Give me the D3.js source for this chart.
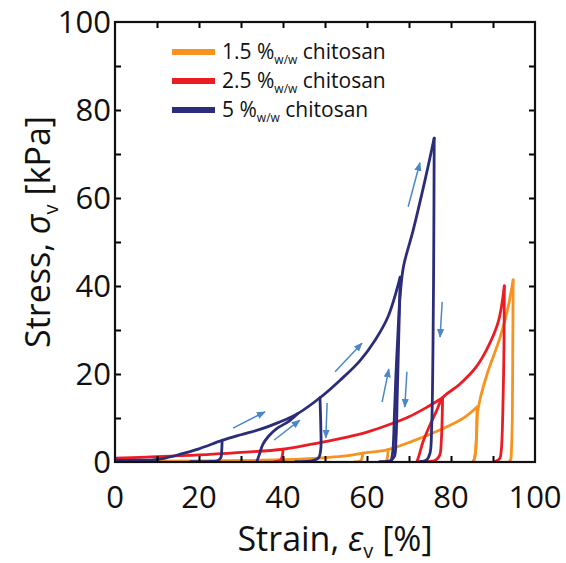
<!DOCTYPE html>
<html><head><meta charset="utf-8">
<script src="https://cdn.jsdelivr.net/npm/d3@7/dist/d3.min.js"></script>
<style>
html,body{margin:0;padding:0;background:#fff;}
svg{display:block;font-family:"Open Sans","Noto Sans",sans-serif;}
</style></head>
<body>
<svg id="chart" width="566" height="563"></svg>
<script>
// ---------- DATA (strain %, stress kPa) ----------
const xTicks = [0, 20, 40, 60, 80, 100];
const yTicks = [0, 20, 40, 60, 80, 100];
const minorTicks = [10, 20, 30, 40, 50, 60, 70, 80, 90];

const seriesNames = ["1.5 %", "2.5 %", "5 %"];
const seriesColors = ["#f7931e", "#ec1c24", "#2b2d7a"];

// 1.5 % w/w chitosan
const orangeEnvelope = [[0,0.2],[20,0.25],[35,0.4],[45,0.7],[50,1.0],[55,1.4],[59,2.0],[65,2.8],[71,4.8],[75,6.3],[79,8.0],[83,10.0],[86.2,12.5]];
const orangeHook59 = [[59,2.0],[58.8,0.8],[58.4,0.2],[57,0.05]];
const orangeHook65 = [[65,2.8],[64.9,1.2],[64.6,0.3],[63.5,0.05]];
const orangeUnload1 = [[86.2,12.5],[86.1,7],[85.9,3],[85.6,0.8],[85.2,0.1]];
const orangeReload = [[85.4,0.1],[85.8,2],[86.1,6],[86.3,11],[86.9,14.2],[88.6,20],[91.7,28.4],[93.6,35.2],[94.8,41.4]];
const orangeUnload2 = [[94.8,41.4],[94.7,25],[94.6,10],[94.4,3],[94.2,0.5],[93.8,0]];

// 2.5 % w/w chitosan
const redEnvelope = [[0,0.9],[10,1.2],[20,1.6],[30,2.2],[40,2.9],[48.8,4.4],[55,5.6],[60,6.8],[65,8.4],[70,10.3],[74,12.3],[78,14.6]];
const redHook40 = [[40,2.9],[39.8,1.2],[39.4,0.4],[38,0.1]];
const redUnload1 = [[78,14.6],[77.9,10],[77.7,5],[77.3,1.5],[76.3,0.4],[74.5,0.1]];
const redReload = [[71.9,0.1],[72.4,1.5],[73.3,4.5],[74.8,8],[76.5,11.5],[78,14.6],[82,17.6],[86,21.6],[89,26.5],[91.3,32],[92.7,40]];
const redUnload2 = [[92.7,40],[92.6,25],[92.3,10],[92,3],[91.6,0.8],[90.5,0.1]];

// 5 % w/w chitosan
const navyEnvelope = [[0,0.4],[5,0.4],[9,0.5],[12,0.9],[16,1.9],[20,3.0],[25.5,4.9],[30,6.2],[34.5,7.4],[39,9.0],[43.5,11.0],[48.8,14.6],[53.6,18.6],[58.3,23.0],[62,27.8],[65,33],[67.9,42]];
const navyUnload1 = [[25.5,4.9],[25.4,2.5],[25.2,1.0],[24.4,0.3],[22,0.1],[18,0.1]];
const navyReload2 = [[33.8,0.2],[34.3,1.5],[35.2,4.0],[36.5,5.8],[38.5,7.6],[41,9.0],[43.5,11.0]];
const navyUnload2 = [[48.8,14.6],[49,8],[49,3],[48.5,1],[47,0.3],[43,0.1]];
const navyUnload3 = [[67.9,42],[67.6,30],[67.2,15],[66.9,5],[66.5,1.2],[65.5,0.3],[63,0.1]];
const navyReload4 = [[65.8,0.2],[66.2,3],[66.5,10],[66.9,20],[67.4,30],[67.9,38],[68.7,44.5],[71,52.7],[73.8,64],[76,73.6]];
const navyUnload4 = [[76,73.6],[75.9,50],[75.7,25],[75.4,8],[75,2],[74.2,0.5],[72.5,0.1]];

const seriesSegments = [
  [orangeEnvelope, orangeHook59, orangeHook65, orangeUnload1, orangeReload, orangeUnload2],
  [redEnvelope, redHook40, redUnload1, redReload, redUnload2],
  [navyEnvelope, navyUnload1, navyReload2, navyUnload2, navyUnload3, navyReload4, navyUnload4]
];

// loading / unloading direction arrows [from, to]
const arrows = [
  [[28.1,7.7],[35.7,11.4]],
  [[37.9,5.0],[44.0,9.5]],
  [[50.5,13.4],[50.2,5.5]],
  [[52.4,20.5],[58.8,27.0]],
  [[63.6,13.6],[65.2,21.1]],
  [[69.5,20.5],[69.0,12.5]],
  [[69.8,58.0],[72.6,68.0]],
  [[77.9,36.4],[77.4,28.4]]
];

// ---------- LAYOUT ----------
const svg = d3.select("#chart");
const x = d3.scaleLinear().domain([0,100]).range([115,535]);
const y = d3.scaleLinear().domain([0,100]).range([462,22]);
const arrowColor = "#4a86c8";

const defs = svg.append("defs");
defs.append("marker").attr("id","ah").attr("viewBox","0 0 10 10")
  .attr("refX",9).attr("refY",5).attr("markerWidth",9).attr("markerHeight",9)
  .attr("markerUnits","userSpaceOnUse").attr("orient","auto")
  .append("path").attr("d","M0,1 L10,5 L0,9 Z").attr("fill",arrowColor);

const clip = defs.append("clipPath").attr("id","plotclip");
clip.append("rect").attr("x",x(0)).attr("y",y(100)).attr("width",x(100)-x(0)).attr("height",y(0)-y(100));

// curves
const line = d3.line().x(d=>x(d[0])).y(d=>y(d[1])).curve(d3.curveCatmullRom.alpha(0.5));
const curves = svg.append("g").attr("clip-path","url(#plotclip)");
seriesSegments.forEach((segs,i)=>{
  curves.append("g").selectAll("path").data(segs).join("path")
    .attr("d",line).attr("fill","none")
    .attr("stroke",seriesColors[i]).attr("stroke-width",2.8)
    .attr("stroke-linejoin","round").attr("stroke-linecap","round");
});

// arrows
svg.append("g").selectAll("line").data(arrows).join("line")
  .attr("x1",d=>x(d[0][0])).attr("y1",d=>y(d[0][1]))
  .attr("x2",d=>x(d[1][0])).attr("y2",d=>y(d[1][1]))
  .attr("stroke",arrowColor).attr("stroke-width",1.5)
  .attr("marker-end","url(#ah)");

// frame + axes (ticks inside on all sides)
const tickLen = 6;
const axB = d3.axisBottom(x).tickValues(minorTicks).tickSize(-tickLen).tickFormat("");
const axT = d3.axisTop(x).tickValues(minorTicks).tickSize(-tickLen).tickFormat("");
const axL = d3.axisLeft(y).tickValues(minorTicks).tickSize(-tickLen).tickFormat("");
const axR = d3.axisRight(y).tickValues(minorTicks).tickSize(-tickLen).tickFormat("");
[[axB,`translate(0,${y(0)})`],[axT,`translate(0,${y(100)})`],[axL,`translate(${x(0)},0)`],[axR,`translate(${x(100)},0)`]]
.forEach(([ax,tr])=>{
  const g = svg.append("g").attr("transform",tr).call(ax);
  g.select(".domain").remove();
  g.selectAll("line").attr("stroke","#000").attr("stroke-width",2);
});
svg.append("rect").attr("x",x(0)).attr("y",y(100)).attr("width",x(100)-x(0)).attr("height",y(0)-y(100))
  .attr("fill","none").attr("stroke","#111").attr("stroke-width",2.2);

// tick labels
svg.append("g").selectAll("text").data(xTicks).join("text")
  .attr("x",d=>x(d)).attr("y",508).attr("text-anchor","middle")
  .attr("font-size",31).attr("fill","#111").text(d=>d);
svg.append("g").selectAll("text").data(yTicks).join("text")
  .attr("x",111).attr("y",d=>y(d)+11).attr("text-anchor","end")
  .attr("font-size",31).attr("fill","#111").text(d=>d);

// axis titles
const xt = svg.append("text").attr("x",335).attr("y",551).attr("text-anchor","middle")
  .attr("font-size",34).attr("fill","#111");
xt.append("tspan").text("Strain,  ");
xt.append("tspan").attr("font-style","italic").text("ε");
xt.append("tspan").attr("font-size",20).attr("dy",7).text("v");
xt.append("tspan").attr("dy",-7).text(" [%]");

const yt = svg.append("text").attr("transform","translate(50,232) rotate(-90)")
  .attr("text-anchor","middle").attr("font-size",34).attr("fill","#111");
yt.append("tspan").text("Stress, ");
yt.append("tspan").attr("font-style","italic").text("σ");
yt.append("tspan").attr("font-size",20).attr("dy",8).text("v");
yt.append("tspan").attr("dy",-8).text(" [kPa]");

// legend
const lg = svg.append("g");
seriesNames.forEach((name,i)=>{
  const ly = 52 + i*29;
  lg.append("line").attr("x1",172).attr("x2",215).attr("y1",ly).attr("y2",ly)
    .attr("stroke",seriesColors[i]).attr("stroke-width",6);
  const t = lg.append("text").attr("x",222).attr("y",ly+7).attr("font-size",21).attr("fill","#111");
  t.append("tspan").text(name);
  t.append("tspan").attr("font-size",12).attr("dy",5).text("w/w");
  t.append("tspan").attr("dy",-5).text(" chitosan");
});
</script>
</body></html>
